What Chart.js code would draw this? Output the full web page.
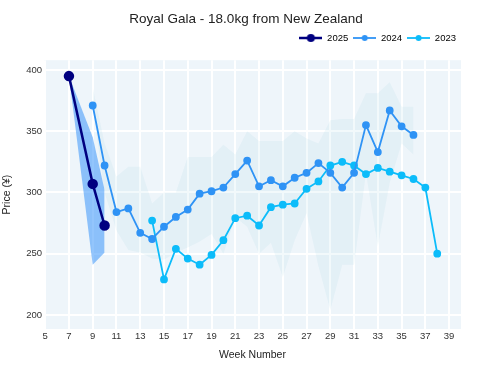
<!DOCTYPE html>
<html>
<head>
<meta charset="utf-8">
<script src="https://cdn.jsdelivr.net/npm/chart.js@4"></script>
<style>
  html, body { margin: 0; padding: 0; background: #ffffff; }
  #wrap { width: 492px; height: 368px; }
</style>
</head>
<body>
<div id="wrap"><canvas id="priceChart" width="492" height="368"></canvas></div>
<script>
// weekly prices
var weeks2025 = [7, 9, 10];
var price2025 = [395, 307, 273];
var low2025 = [395, 241, 251];
var high2025 = [395, 345, 302];

var weeks2024 = [9, 10, 11, 12, 13, 14, 15, 16, 17, 18, 19, 20, 21, 22, 23, 24, 25, 26, 27, 28, 29, 30, 31, 32, 33, 34, 35, 36];
var price2024 = [371, 322, 284, 287, 267, 262, 272, 280, 286, 299, 301, 304, 315, 326, 305, 310, 305, 312, 316, 324, 316, 304, 316, 355, 333, 367, 354, 347];
var low2024 = [371, 300, 269, 253, 251, 246, 245, 251, 255, 260, 266, 250, 280, 272, 250, 259, 231, 261, 283, 240, 204, 241, 241, 316, 256, 308, 340, 331];
var high2024 = [386, 340, 313, 321, 321, 291, 300, 300, 329, 329, 329, 339, 331, 350, 342, 342, 342, 350, 344, 340, 359, 360, 360, 381, 381, 390, 370, 370];

var weeks2023 = [14, 15, 16, 17, 18, 19, 20, 21, 22, 23, 24, 25, 26, 27, 28, 29, 30, 31, 32, 33, 34, 35, 36, 37, 38];
var price2023 = [277, 229, 254, 246, 241, 249, 261, 279, 281, 273, 288, 290, 291, 303, 309, 322, 325, 322, 315, 320, 317, 314, 311, 304, 250];

var xTicks = [5, 7, 9, 11, 13, 15, 17, 19, 21, 23, 25, 27, 29, 31, 33, 35, 37, 39];
var yTicks = [200, 250, 300, 350, 400];

function pts(weeks, values) {
    return weeks.map(function (w, i) { return { x: w, y: values[i] }; });
}

// little line + dot swatch for the legend
function legendIcon(color, lineWidth, radius) {
    var c = document.createElement('canvas');
    c.width = 23;
    c.height = 12;
    var g = c.getContext('2d');
    g.strokeStyle = color;
    g.lineWidth = lineWidth;
    g.beginPath();
    g.moveTo(0, 6);
    g.lineTo(23, 6);
    g.stroke();
    g.fillStyle = color;
    g.beginPath();
    g.arc(11.5, 6, radius, 0, Math.PI * 2);
    g.fill();
    return c;
}

var plotBackground = {
    id: 'plotBackground',
    beforeDraw: function (chart) {
        var a = chart.chartArea;
        var ctx = chart.ctx;
        ctx.save();
        ctx.fillStyle = '#eef5fa';
        ctx.fillRect(a.left, a.top, a.right - a.left, a.bottom - a.top);
        ctx.restore();
    }
};

var legendHeight = {
    id: 'legendHeight',
    beforeInit: function (chart) {
        var fit = chart.legend.fit;
        chart.legend.fit = function () {
            fit.call(this);
            this.height = 32;
        };
    }
};

var band = function (weeks, values, color, fillTarget, order) {
    return {
        label: '',
        data: pts(weeks, values),
        borderWidth: 0,
        pointRadius: 0,
        backgroundColor: color,
        fill: fillTarget,
        order: order
    };
};

var ctx = document.getElementById('priceChart').getContext('2d');
var chart = new Chart(ctx, {
    type: 'line',
    data: {
        datasets: [
            band(weeks2024, low2024, 'rgba(0,0,0,0)', false, 20),
            band(weeks2024, high2024, 'rgba(150,205,225,0.12)', 0, 19),
            band(weeks2025, low2025, 'rgba(0,0,0,0)', false, 18),
            band(weeks2025, high2025, 'rgba(40,140,250,0.5)', 2, 17),
            {
                label: '2025',
                data: pts(weeks2025, price2025),
                borderColor: '#000080',
                backgroundColor: '#000080',
                borderWidth: 2.5,
                pointRadius: 4,
                fill: false,
                order: 1
            },
            {
                label: '2024',
                data: pts(weeks2024, price2024),
                borderColor: '#2f93f5',
                backgroundColor: '#2f93f5',
                borderWidth: 1.8,
                pointRadius: 3,
                fill: false,
                order: 2
            },
            {
                label: '2023',
                data: pts(weeks2023, price2023),
                borderColor: '#0cbcfa',
                backgroundColor: '#0cbcfa',
                borderWidth: 1.8,
                pointRadius: 3,
                fill: false,
                order: 3
            }
        ]
    },
    options: {
        responsive: false,
        animation: false,
        events: [],
        layout: { padding: { left: 0, right: 0, top: 0, bottom: 0 } },
        plugins: {
            tooltip: { enabled: false },
            title: {
                display: true,
                text: 'Royal Gala - 18.0kg from New Zealand',
                color: '#222',
                font: { family: 'Liberation Sans', size: 13.5, weight: 'normal' },
                padding: { top: 11, bottom: 1 }
            },
            legend: {
                display: true,
                position: 'top',
                align: 'end',
                fullSize: false,
                labels: {
                    color: '#222',
                    font: { family: 'Liberation Sans', size: 9.5 },
                    usePointStyle: true,
                    pointStyleWidth: 23,
                    padding: 5,
                    filter: function (item) { return item.text !== ''; },
                    generateLabels: function (chart) {
                        var icons = { '2025': legendIcon('#000080', 2.5, 4), '2024': legendIcon('#2f93f5', 1.8, 3), '2023': legendIcon('#0cbcfa', 1.8, 3) };
                        return chart.data.datasets.map(function (ds, i) {
                            return {
                                text: ds.label,
                                datasetIndex: i,
                                pointStyle: icons[ds.label] || 'circle',
                                fillStyle: ds.backgroundColor,
                                strokeStyle: ds.borderColor,
                                lineWidth: 0,
                                hidden: false
                            };
                        });
                    }
                }
            }
        },
        scales: {
            x: {
                type: 'linear',
                min: 4.9,
                max: 40,
                afterBuildTicks: function (scale) {
                    scale.ticks = xTicks.map(function (v) { return { value: v }; });
                },
                afterFit: function (scale) { scale.height = 39; },
                grid: { color: '#ffffff', lineWidth: 2, drawTicks: false },
                border: { display: false },
                ticks: {
                    color: '#333',
                    font: { family: 'Liberation Sans', size: 9.5 },
                    padding: 2,
                    maxRotation: 0,
                    autoSkip: false
                },
                title: {
                    display: true,
                    text: 'Week Number',
                    color: '#222',
                    font: { family: 'Liberation Sans', size: 10.5 },
                    padding: { top: 0, bottom: 7 }
                }
            },
            y: {
                type: 'linear',
                min: 188.5,
                max: 408,
                afterBuildTicks: function (scale) {
                    scale.ticks = yTicks.map(function (v) { return { value: v }; });
                },
                afterFit: function (scale) { scale.width = 44; },
                grid: { color: '#ffffff', lineWidth: 2, drawTicks: false },
                border: { display: false },
                ticks: {
                    color: '#333',
                    font: { family: 'Liberation Sans', size: 9.5 },
                    padding: 2
                },
                title: {
                    display: true,
                    text: 'Price (¥)',
                    color: '#222',
                    font: { family: 'Liberation Sans', size: 10.5 },
                    padding: { top: 1, bottom: 0 }
                }
            },
            spacer: {
                type: 'linear',
                position: 'right',
                display: true,
                afterFit: function (scale) { scale.width = 31; },
                grid: { display: false },
                border: { display: false },
                ticks: { display: false }
            }
        }
    },
    plugins: [plotBackground, legendHeight]
});
</script>
</body>
</html>
